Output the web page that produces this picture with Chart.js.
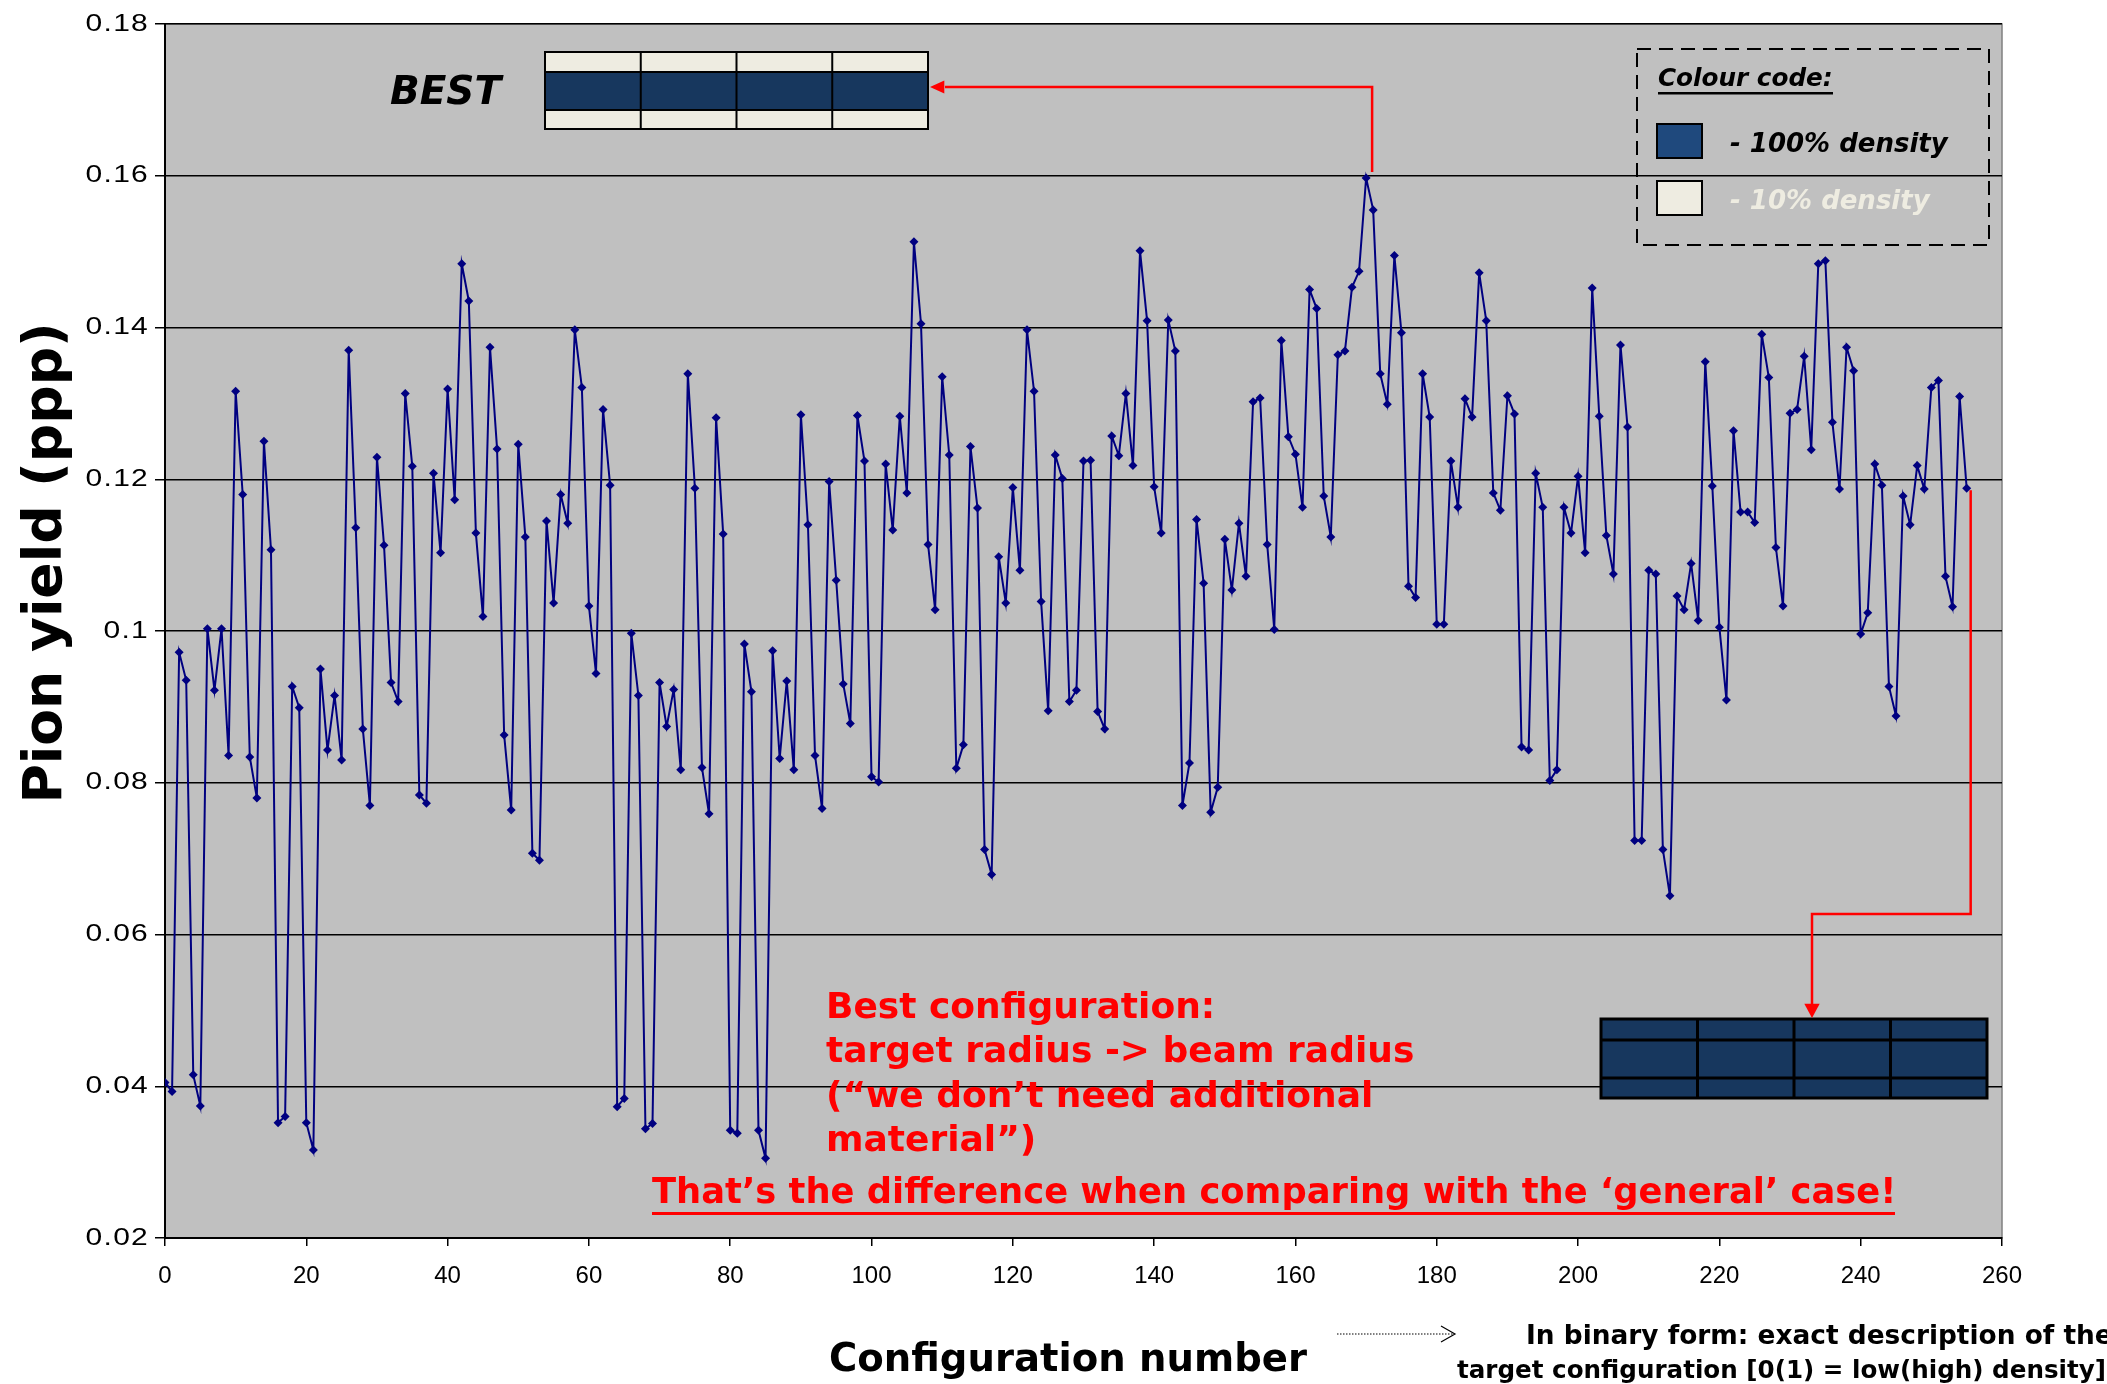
<!DOCTYPE html>
<html>
<head>
<meta charset="utf-8">
<title>Pion yield vs configuration number</title>
<script src="https://cdn.jsdelivr.net/npm/chart.js@4.4.0/dist/chart.umd.min.js"></script>
<style>
  html, body { margin: 0; padding: 0; background: #fff; }
  #pionChart { display: block; }
</style>
</head>
<body>
<canvas id="pionChart" width="2107" height="1384"></canvas>
<script>
// Pion yield (ppp) for each of the 256 target configurations
const pionYield = [
    0.0405, 0.0393, 0.0972, 0.0935, 0.0415, 0.0374, 0.1003, 0.0922, 0.1003, 0.0836,
    0.1316, 0.1180, 0.0834, 0.0780, 0.1250, 0.1107, 0.0352, 0.0360, 0.0927, 0.0899,
    0.0352, 0.0316, 0.0950, 0.0843, 0.0915, 0.0830, 0.1370, 0.1136, 0.0871, 0.0770,
    0.1229, 0.1113, 0.0932, 0.0907, 0.1313, 0.1217, 0.0784, 0.0773, 0.1208, 0.1103,
    0.1319, 0.1173, 0.1484, 0.1435, 0.1129, 0.1019, 0.1374, 0.1240, 0.0863, 0.0764,
    0.1246, 0.1124, 0.0707, 0.0698, 0.1145, 0.1037, 0.1180, 0.1142, 0.1397, 0.1321,
    0.1033, 0.0944, 0.1292, 0.1192, 0.0373, 0.0384, 0.0997, 0.0915, 0.0344, 0.0351,
    0.0932, 0.0874, 0.0923, 0.0817, 0.1339, 0.1188, 0.0820, 0.0759, 0.1281, 0.1128,
    0.0342, 0.0338, 0.0983, 0.0920, 0.0342, 0.0305, 0.0974, 0.0832, 0.0934, 0.0817,
    0.1285, 0.1140, 0.0836, 0.0766, 0.1197, 0.1067, 0.0930, 0.0878, 0.1284, 0.1224,
    0.0808, 0.0801, 0.1220, 0.1133, 0.1283, 0.1182, 0.1513, 0.1405, 0.1114, 0.1028,
    0.1335, 0.1232, 0.0819, 0.0850, 0.1243, 0.1162, 0.0712, 0.0679, 0.1098, 0.1037,
    0.1189, 0.1080, 0.1397, 0.1316, 0.1039, 0.0895, 0.1232, 0.1201, 0.0907, 0.0922,
    0.1224, 0.1225, 0.0894, 0.0871, 0.1257, 0.1231, 0.1313, 0.1218, 0.1501, 0.1409,
    0.1190, 0.1129, 0.1410, 0.1369, 0.0770, 0.0826, 0.1147, 0.1063, 0.0761, 0.0794,
    0.1121, 0.1054, 0.1142, 0.1072, 0.1302, 0.1307, 0.1114, 0.1002, 0.1383, 0.1256,
    0.1233, 0.1163, 0.1450, 0.1425, 0.1178, 0.1124, 0.1364, 0.1369, 0.1453, 0.1474,
    0.1597, 0.1555, 0.1339, 0.1299, 0.1495, 0.1393, 0.1059, 0.1044, 0.1339, 0.1282,
    0.1009, 0.1009, 0.1224, 0.1163, 0.1306, 0.1282, 0.1472, 0.1409, 0.1182, 0.1159,
    0.1310, 0.1286, 0.0847, 0.0843, 0.1208, 0.1163, 0.0803, 0.0817, 0.1163, 0.1129,
    0.1204, 0.1103, 0.1452, 0.1283, 0.1126, 0.1075, 0.1377, 0.1269, 0.0724, 0.0724,
    0.1080, 0.1075, 0.0712, 0.0651, 0.1046, 0.1028, 0.1089, 0.1014, 0.1355, 0.1191,
    0.1005, 0.0909, 0.1264, 0.1157, 0.1157, 0.1143, 0.1391, 0.1334, 0.1110, 0.1033,
    0.1287, 0.1292, 0.1362, 0.1239, 0.1484, 0.1488, 0.1275, 0.1187, 0.1374, 0.1343,
    0.0996, 0.1024, 0.1220, 0.1192, 0.0927, 0.0888, 0.1178, 0.1140, 0.1218, 0.1187,
    0.1321, 0.1330, 0.1072, 0.1032, 0.1309, 0.1188
];

// Axis ticks
const xTicks = [0, 20, 40, 60, 80, 100, 120, 140, 160, 180, 200, 220, 240, 260];
const yTicks = [0.02, 0.04, 0.06, 0.08, 0.1, 0.12, 0.14, 0.16, 0.18];

// Configurations that the arrows point from
const bestConfig = 170;
const generalConfig = 255;

// Texts
const yTitle = 'Pion yield (ppp)';
const xTitle = 'Configuration number';
const binaryNote = ['In binary form: exact description of the',
                    'target configuration [0(1) = low(high) density]'];
const redNote = ['Best configuration:',
                 'target radius -> beam radius',
                 '(\u201cwe don\u2019t need additional',
                 'material\u201d)'];
const redFooter = 'That\u2019s the difference when comparing with the \u2018general\u2019 case!';

const FAMILY = "'Comic Sans MS', 'DejaVu Sans', sans-serif";
const TICK_FONT = "24px 'Liberation Sans', Arial, sans-serif";
const NAVY = '#17375e';
const BEIGE = '#eeece1';
const RED = '#ff0000';

// font size so that text gets the wanted width
function fitFont(ctx, text, width, style) {
    ctx.font = `${style} 40px ${FAMILY}`;
    const w = ctx.measureText(text).width;
    return `${style} ${(40 * width / w).toFixed(1)}px ${FAMILY}`;
}

function drawText(ctx, text, x, y, font, color, align) {
    ctx.font = font;
    ctx.fillStyle = color;
    ctx.textAlign = align || 'left';
    ctx.textBaseline = 'middle';
    ctx.fillText(text, x, y);
}

function arrowHead(ctx, x, y, dir, size) {
    ctx.beginPath();
    if (dir === 'left') {
        ctx.moveTo(x, y);
        ctx.lineTo(x + size * 1.3, y - size * 0.6);
        ctx.lineTo(x + size * 1.3, y + size * 0.6);
    } else {
        ctx.moveTo(x, y);
        ctx.lineTo(x - size * 0.7, y - size * 1.3);
        ctx.lineTo(x + size * 0.7, y - size * 1.3);
    }
    ctx.closePath();
    ctx.fill();
}

// 4 columns grid of cells, one colour per row
function cellBox(ctx, x, y, colW, rowH, rowColors, lineW) {
    const w = colW * 4;
    const h = rowH.reduce((a, b) => a + b, 0);
    let yy = y;
    rowH.forEach((rh, r) => {
        ctx.fillStyle = rowColors[r];
        ctx.fillRect(x, yy, w, rh);
        yy += rh;
    });
    ctx.strokeStyle = '#000';
    ctx.lineWidth = lineW;
    ctx.strokeRect(x, y, w, h);
    ctx.beginPath();
    for (let c = 1; c < 4; c++) {
        ctx.moveTo(x + c * colW, y);
        ctx.lineTo(x + c * colW, y + h);
    }
    yy = y;
    for (let r = 0; r < rowH.length - 1; r++) {
        yy += rowH[r];
        ctx.moveTo(x, yy);
        ctx.lineTo(x + w, yy);
    }
    ctx.stroke();
}

const plotBackground = {
    id: 'plotBackground',
    beforeDraw(chart) {
        const { ctx, chartArea: a } = chart;
        ctx.save();
        ctx.fillStyle = '#c0c0c0';
        ctx.fillRect(a.left, a.top, a.width, a.height);
        ctx.strokeStyle = '#808080';
        ctx.lineWidth = 1.5;
        ctx.strokeRect(a.left, a.top, a.width, a.height);
        ctx.restore();
    }
};

// y labels are wide in the original, so draw them stretched by hand
const yLabels = {
    id: 'yLabels',
    afterDraw(chart) {
        const ctx = chart.ctx;
        const ys = chart.scales.y;
        yTicks.forEach(v => {
            ctx.save();
            ctx.translate(149, ys.getPixelForValue(v));
            ctx.scale(1.25, 1);
            ctx.font = TICK_FONT;
            ctx.fillStyle = '#000';
            ctx.textAlign = 'right';
            ctx.textBaseline = 'middle';
            ctx.letterSpacing = '1px';
            ctx.fillText(String(Number(v.toFixed(2))), 0, 0);
            ctx.restore();
        });
    }
};

const annotations = {
    id: 'annotations',
    afterDraw(chart) {
        const ctx = chart.ctx;
        const xs = chart.scales.x;
        const ys = chart.scales.y;
        ctx.save();
        ctx.letterSpacing = '0px';

        // axis titles
        ctx.save();
        ctx.translate(47, 563);
        ctx.rotate(-Math.PI / 2);
        drawText(ctx, yTitle, 0, 0, fitFont(ctx, yTitle, 481, 'bold'), '#000', 'center');
        ctx.restore();
        drawText(ctx, xTitle, 1068, 1361, fitFont(ctx, xTitle, 478, 'bold'), '#000', 'center');

        // dotted arrow towards the binary note
        ctx.strokeStyle = '#000';
        ctx.lineWidth = 1.2;
        ctx.setLineDash([1.5, 1.5]);
        ctx.beginPath();
        ctx.moveTo(1337, 1334);
        ctx.lineTo(1453, 1334);
        ctx.stroke();
        ctx.setLineDash([]);
        ctx.beginPath();
        ctx.moveTo(1441, 1326);
        ctx.lineTo(1455, 1334);
        ctx.lineTo(1441, 1342);
        ctx.stroke();

        drawText(ctx, binaryNote[0], 1526, 1337, fitFont(ctx, binaryNote[0], 586, 'bold'), '#000');
        drawText(ctx, binaryNote[1], 1457, 1372, fitFont(ctx, binaryNote[1], 648, 'bold'), '#000');

        // legend box
        ctx.strokeStyle = '#000';
        ctx.lineWidth = 2;
        ctx.setLineDash([14, 8]);
        ctx.strokeRect(1637, 49, 352, 196);
        ctx.setLineDash([]);
        const capFont = fitFont(ctx, 'Colour code:', 175, 'bold italic');
        drawText(ctx, 'Colour code:', 1658, 80, capFont, '#000');
        ctx.fillStyle = '#000';
        ctx.fillRect(1658, 92, 175, 2.5);
        ctx.fillStyle = '#1f497d';
        ctx.fillRect(1657, 124, 45, 34);
        ctx.strokeStyle = '#000';
        ctx.lineWidth = 2;
        ctx.strokeRect(1657, 124, 45, 34);
        ctx.fillStyle = BEIGE;
        ctx.fillRect(1657, 181, 45, 34);
        ctx.strokeRect(1657, 181, 45, 34);
        const legFont = fitFont(ctx, '- 100% density', 218, 'bold italic');
        drawText(ctx, '- 100% density', 1730, 145, legFont, '#000');
        drawText(ctx, '- 10% density', 1730, 202, legFont, BEIGE);

        // best configuration box
        drawText(ctx, 'BEST', 390, 94, fitFont(ctx, 'BEST', 111, 'bold italic'), '#000');
        cellBox(ctx, 545, 52, 95.75, [20, 38, 19], [BEIGE, NAVY, BEIGE], 2);

        // 'general' case box
        cellBox(ctx, 1601, 1019, 96.5, [21, 38, 20], [NAVY, NAVY, NAVY], 3);

        // red arrows
        ctx.strokeStyle = RED;
        ctx.fillStyle = RED;
        ctx.lineWidth = 2.5;
        const bx = xs.getPixelForValue(bestConfig) + 6;
        const by = ys.getPixelForValue(pionYield[bestConfig]) - 6;
        ctx.beginPath();
        ctx.moveTo(bx, by);
        ctx.lineTo(bx, 87);
        ctx.lineTo(945, 87);
        ctx.stroke();
        arrowHead(ctx, 930, 87, 'left', 11);

        const gx = xs.getPixelForValue(generalConfig) + 4;
        const gy = ys.getPixelForValue(pionYield[generalConfig]) + 2;
        ctx.beginPath();
        ctx.moveTo(gx, gy);
        ctx.lineTo(gx, 914);
        ctx.lineTo(1812, 914);
        ctx.lineTo(1812, 1004);
        ctx.stroke();
        arrowHead(ctx, 1812, 1018, 'down', 11);

        // red annotation text
        const redFont = fitFont(ctx, redNote[1], 589, 'bold');
        [1009, 1053, 1098, 1142].forEach((y, k) => {
            drawText(ctx, redNote[k], 826, y, redFont, RED);
        });
        drawText(ctx, redFooter, 652, 1194, fitFont(ctx, redFooter, 1243, 'bold'), RED);
        ctx.fillStyle = RED;
        ctx.fillRect(652, 1212, 1243, 3);

        ctx.restore();
    }
};

const ctx = document.getElementById('pionChart').getContext('2d');
const pionChart = new Chart(ctx, {
    type: 'line',
    data: {
        datasets: [{
            label: 'Pion yield',
            data: pionYield.map((v, i) => ({ x: i, y: v })),
            borderColor: '#000080',
            backgroundColor: '#000080',
            borderWidth: 2,
            pointStyle: 'rectRot',
            pointRadius: 4.5,
            pointBorderWidth: 0,
            tension: 0,
            fill: false
        }]
    },
    options: {
        responsive: false,
        devicePixelRatio: 1,
        animation: false,
        layout: { padding: { top: 24, right: 105, left: 0, bottom: 0 } },
        plugins: {
            legend: { display: false },
            tooltip: { enabled: false }
        },
        scales: {
            x: {
                type: 'linear',
                min: 0,
                max: 260,
                afterBuildTicks: (s) => { s.ticks = xTicks.map(v => ({ value: v })); },
                afterFit: (s) => { s.height = 146; },
                ticks: {
                    color: '#000',
                    font: { family: "'Liberation Sans', Arial, sans-serif", size: 24 },
                    padding: 16,
                    maxRotation: 0,
                    autoSkip: false
                },
                grid: {
                    drawOnChartArea: false,
                    drawTicks: true,
                    tickLength: 8,
                    color: '#000',
                    lineWidth: 1.5
                },
                border: { color: '#000', width: 2 }
            },
            y: {
                min: 0.02,
                max: 0.18,
                afterBuildTicks: (s) => { s.ticks = yTicks.map(v => ({ value: v })); },
                afterFit: (s) => { s.width = 165; },
                ticks: { display: false },
                grid: {
                    color: '#000',
                    lineWidth: 1.5,
                    tickLength: 10
                },
                border: { color: '#000', width: 2 }
            }
        }
    },
    plugins: [plotBackground, yLabels, annotations]
});
</script>
</body>
</html>
